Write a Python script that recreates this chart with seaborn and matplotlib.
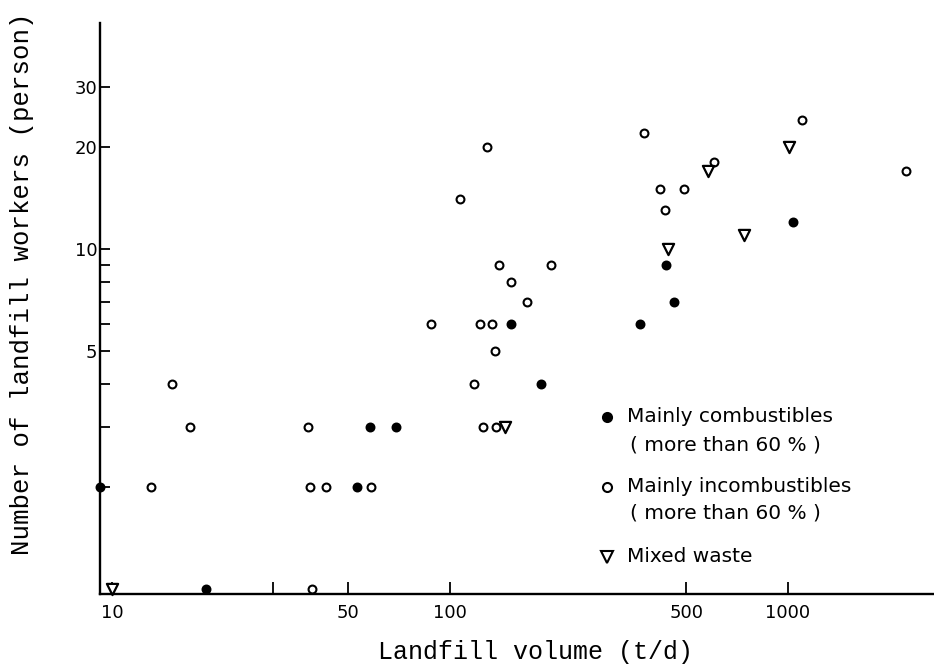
import numpy as np
import pandas as pd
import matplotlib.pyplot as plt
import seaborn as sns
from matplotlib.lines import Line2D
from matplotlib.ticker import FixedLocator, NullFormatter, NullLocator

# Mainly combustibles (filled circles)
comb_x = [9.2, 19, 53, 58, 69, 151, 186, 366, 437, 460, 1033]
comb_y = [2, 1, 2, 3, 3, 6, 4, 6, 9, 7, 12]

# Mainly incombustibles (open circles)
incomb_x = [13, 15, 17, 38, 38.5, 39, 43, 58.5, 88, 107, 118, 123, 125, 129,
            133, 136, 137, 140, 151, 169, 199, 374, 419, 432, 492, 604, 1101, 2228]
incomb_y = [2, 4, 3, 3, 2, 1, 2, 2, 6, 14, 4, 6, 3, 20,
            6, 5, 3, 9, 8, 7, 9, 22, 15, 13, 15, 18, 24, 17]

# Mixed waste (open triangles)
mixed_x = [10, 145, 440, 581, 742, 1009]
mixed_y = [1, 3, 10, 17, 11, 20]

x_ticks = [10, 30, 50, 100, 500, 1000]
x_ticklabels = ["10", "", "50", "100", "500", "1000"]
y_ticks = [5, 10, 20, 30]
y_minor = [2, 3, 4, 6, 7, 8, 9]

comb = pd.DataFrame({"volume": comb_x, "workers": comb_y})
incomb = pd.DataFrame({"volume": incomb_x, "workers": incomb_y})
mixed = pd.DataFrame({"volume": mixed_x, "workers": mixed_y})

sns.set_style("ticks")
plt.rcParams["font.family"] = ["DejaVu Sans"]
plt.rcParams["text.color"] = "black"

W, H = 934, 670
fig = plt.figure(figsize=(W / 100, H / 100), dpi=100)
ax = fig.add_axes([100 / W, 76 / H, 834 / W, 571 / H])

sns.scatterplot(data=incomb, x="volume", y="workers", ax=ax, marker="o", s=32,
                color="white", edgecolor="black", linewidth=1.5, clip_on=False, zorder=3)
sns.scatterplot(data=comb, x="volume", y="workers", ax=ax, marker="o", s=32,
                color="black", edgecolor="black", linewidth=1.5, clip_on=False, zorder=3)
sns.scatterplot(data=mixed, x="volume", y="workers", ax=ax, marker="v", s=65,
                color="white", edgecolor="black", linewidth=1.6, clip_on=False, zorder=4)

ax.set_xscale("log")
ax.set_yscale("log")
ax.set_xlim(9.21, 2704)
ax.set_ylim(0.967, 46.2)

ax.xaxis.set_major_locator(FixedLocator(x_ticks))
ax.set_xticklabels(x_ticklabels)
ax.xaxis.set_minor_locator(NullLocator())
ax.yaxis.set_major_locator(FixedLocator(y_ticks))
ax.set_yticklabels([str(v) for v in y_ticks])
ax.yaxis.set_minor_locator(FixedLocator(y_minor))
ax.yaxis.set_minor_formatter(NullFormatter())

ax.tick_params(axis="x", which="major", direction="in", length=9, width=1.3,
               pad=7, labelsize=13, color="black", labelcolor="black")
ax.tick_params(axis="y", which="both", direction="in", length=7, width=1.3,
               pad=2, labelsize=13, color="black", labelcolor="black")

for side in ["top", "right"]:
    ax.spines[side].set_visible(False)
for side in ["left", "bottom"]:
    ax.spines[side].set_linewidth(1.7)
    ax.spines[side].set_color("black")

ax.set_xlabel("")
ax.set_ylabel("")

mono = "Liberation Mono"
fig.text(535 / W, 1 - 652 / H, "Landfill volume (t/d)", ha="center", va="center",
         fontsize=18, family=mono)
fig.text(22 / W, 1 - 284 / H, "Number of landfill workers (person)", ha="center",
         va="center", rotation=90, fontsize=18.5, family=mono)

# legend, laid out by hand like the original figure
legend_rows = [
    ("o", "black", 417, "Mainly combustibles"),
    (None, None, 445, "( more than 60 % )"),
    ("o", "white", 487, "Mainly incombustibles"),
    (None, None, 513, "( more than 60 % )"),
    ("v", "white", 557, "Mixed waste"),
]
for mk, fc, py, label in legend_rows:
    if mk is not None:
        ms = 6.5 if mk == "o" else 8
        fig.add_artist(Line2D([607 / W], [1 - py / H], marker=mk, markersize=ms,
                              markerfacecolor=fc, markeredgecolor="black",
                              markeredgewidth=1.5, linestyle="none",
                              transform=fig.transFigure))
        tx = 627
    else:
        tx = 630
    fig.text(tx / W, 1 - py / H, label, ha="left", va="center", fontsize=14.5)

fig.savefig("out.png", dpi=100)
